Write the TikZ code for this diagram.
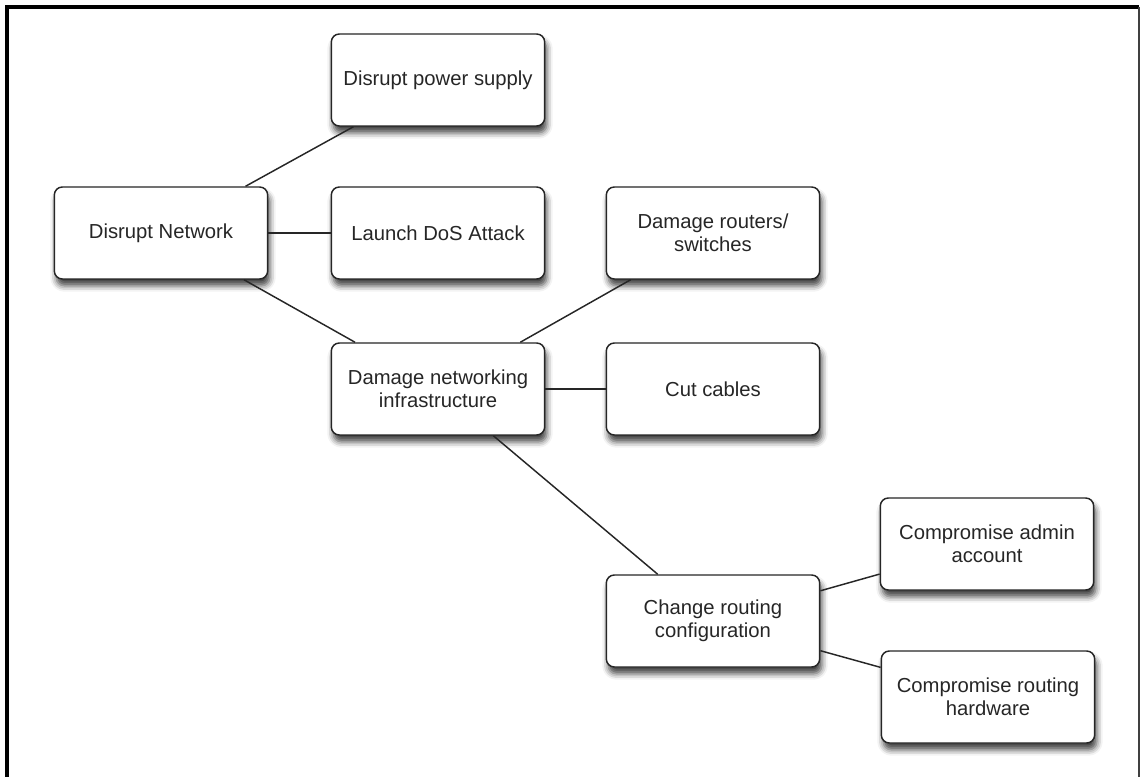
\documentclass[tikz,border=0pt]{standalone}
\usepackage{fontspec}
\setmainfont{Liberation Sans}
\usetikzlibrary{shadows.blur}
\begin{document}
\begin{tikzpicture}[x=0.75pt,y=-0.75pt,
  box/.style={draw=black!85, line width=1.1pt, fill=white, rounded corners=6pt,
    minimum width=160pt, minimum height=69pt, align=center, text=black!85,
    font=\fontsize{15.2}{17.5}\selectfont,
    blur shadow={shadow xshift=1.5pt, shadow yshift=-5pt, shadow blur radius=4.5pt, shadow opacity=75}},
  link/.style={draw=black!85, line width=1.1pt}]
  \useasboundingbox (0,0) rectangle (1140,777);
  % outer frame
  \draw[line width=2.4pt, black] (7,777) -- (7,7) -- (1139,7);
  \draw[line width=1.5pt, black!75] (1139,7) -- (1139,777);

  % node centres
  \coordinate (pDN) at (161,233);
  \coordinate (pPS) at (438,80);
  \coordinate (pDoS) at (438,233);
  \coordinate (pDR) at (713,233);
  \coordinate (pDI) at (438,389);
  \coordinate (pCC) at (713,389);
  \coordinate (pCR) at (713,621);
  \coordinate (pCA) at (987,544);
  \coordinate (pCH) at (988,697);

  \node[box] (dn)  at (pDN)  {Disrupt Network};
  \node[box] (ps)  at (pPS)  {Disrupt power supply};
  \node[box] (dos) at (pDoS) {Launch DoS Attack};
  \node[box] (dr)  at (pDR)  {Damage routers/\\switches};
  \node[box] (di)  at (pDI)  {Damage networking\\infrastructure};
  \node[box] (cc)  at (pCC)  {Cut cables};
  \node[box] (cr)  at (pCR)  {Change routing\\configuration};
  \node[box] (ca)  at (pCA)  {Compromise admin\\account};
  \node[box] (ch)  at (pCH)  {Compromise routing\\hardware};

  % tree links
  \draw[link] (dn) -- (ps);
  \draw[link] (dn) -- (dos);
  \draw[link] (dn) -- (di);
  \draw[link] (di) -- (dr);
  \draw[link] (di) -- (cc);
  \draw[link] (di) -- (cr);
  \draw[link] (cr) -- (ca);
  \draw[link] (cr) -- (ch);
\end{tikzpicture}
\end{document}
